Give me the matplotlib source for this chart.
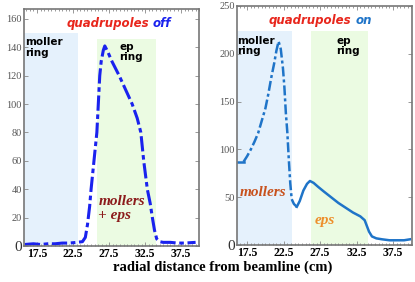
import numpy as np
import matplotlib
matplotlib.use("Agg")
import matplotlib.pyplot as plt
from matplotlib.ticker import MultipleLocator

# quadrupoles off: radial distance (cm) vs rate
off_x = [15.8, 17.0, 18.0, 19.0, 20.0, 21.0, 22.0, 23.0, 23.8, 24.2, 24.5, 24.8,
         25.0, 25.3, 25.6, 25.8, 26.0, 26.2, 26.4, 26.7, 26.9, 27.3, 27.9, 28.9,
         29.8, 30.7, 31.4, 31.9, 32.3, 32.8, 33.2, 33.5, 33.8, 34.1, 34.5, 35.0,
         36.0, 37.0, 38.0, 39.5]
off_y = [1, 1.5, 1, 1.5, 1.5, 2, 2, 2.5, 3, 6, 15, 28,
         40, 55, 70, 80, 100, 120, 130, 138, 141, 137, 130, 120,
         110, 100, 90, 80, 60, 40, 30, 20, 11, 5, 3, 2.5,
         2.5, 2, 2, 2.5]

# quadrupoles on
on_x = [16.3, 17.0, 17.5, 18.0, 18.5, 19.0, 19.5, 20.0, 20.4, 20.8, 21.2, 21.5,
        21.8, 22.1, 22.4, 22.6, 22.8, 23.0, 23.2, 23.4, 23.6, 23.9, 24.3, 24.7,
        25.2, 25.7, 26.1, 26.6, 27.2, 28.0, 29.0, 30.0, 31.0, 32.0, 33.0, 33.6,
        33.9, 34.2, 34.6, 35.2, 36.0, 37.0, 38.0, 39.0, 39.8]
on_y = [87, 87, 93, 100, 108, 117, 130, 143, 158, 175, 190, 203,
        213, 205, 185, 165, 138, 118, 90, 65, 48, 43, 40, 46,
        57, 64, 67, 65, 61, 56, 50, 44, 39, 34, 30, 26,
        20, 14, 9, 7, 6, 5, 5, 5, 6]

xticks = [17.5, 22.5, 27.5, 32.5, 37.5]
off_yticks = [0, 20, 40, 60, 80, 100, 120, 140, 160]
on_yticks = [0, 50, 100, 150, 200, 250]

serif = "Liberation Serif"
shade_blue = "#e5f1fc"
shade_green = "#ebfbe2"

fig = plt.figure(figsize=(4.15, 2.82), dpi=100)
ax1 = fig.add_axes([0.058, 0.128, 0.422, 0.840])
ax2 = fig.add_axes([0.571, 0.131, 0.422, 0.848])


def style_axes(ax, yticks):
    ax.set_xticks(xticks)
    ax.set_xticklabels([str(t) for t in xticks], fontfamily=serif,
                       fontsize=8.5, fontweight="bold")
    ax.set_yticks(yticks)
    ax.set_yticklabels([str(t) for t in yticks], fontfamily=serif,
                       fontsize=7.5, color="#555555")
    ax.get_yticklabels()[0].set_fontsize(11)
    ax.get_yticklabels()[0].set_color("#333333")
    ax.xaxis.set_minor_locator(MultipleLocator(0.5))
    ax.tick_params(which="both", direction="in", top=True, right=True,
                   color="#888888", width=0.6, pad=1.5)
    ax.tick_params(which="major", length=3)
    ax.tick_params(which="minor", length=1.5)
    for s in ax.spines.values():
        s.set_color("#777777")
        s.set_linewidth(1.2)


def title(ax, xpos, word, color):
    kw = dict(transform=ax.transAxes, fontsize=8.5, fontweight="bold",
              style="italic", va="center")
    ax.text(xpos, 0.94, "quadrupoles", color="#e8261c", ha="right", **kw)
    ax.text(xpos + 0.02, 0.94, word, color=color, ha="left", **kw)


# left panel: quadrupoles off
ax1.set_xlim(15.7, 40.0)
ax1.set_ylim(0, 167)
ax1.fill_between([15.7, 23.2], 0, 150, color=shade_blue, lw=0)
ax1.fill_between([25.8, 34.0], 0, 146, color=shade_green, lw=0)
ax1.plot(off_x, off_y, color="#1a22ee", lw=2.2, dashes=(5, 1.2, 1.5, 1.2))
style_axes(ax1, off_yticks)
ax1.text(15.8, 147, "moller\nring", fontsize=7.5, fontweight="bold",
         va="top", ha="left", linespacing=1.1)
ax1.text(28.9, 144, "ep\nring", fontsize=7.5, fontweight="bold",
         va="top", ha="left", linespacing=1.1)
ax1.text(26.0, 36, "mollers\n+ eps", fontfamily=serif, fontsize=11,
         fontweight="bold", style="italic", color="#8c1c1c",
         va="top", ha="left", linespacing=1.1)
title(ax1, 0.715, "off", "#1a22ee")

# right panel: quadrupoles on
ax2.set_xlim(16.1, 40.1)
ax2.set_ylim(0, 250)
ax2.fill_between([16.1, 23.7], 0, 224, color=shade_blue, lw=0)
ax2.fill_between([26.2, 34.1], 0, 224, color=shade_green, lw=0)
on_x = np.array(on_x)
on_y = np.array(on_y)
steep = (on_x >= 17.0) & (on_x <= 24.3)
ax2.plot(on_x[on_x <= 17.0], on_y[on_x <= 17.0], color="#1f74c8", lw=1.8)
ax2.plot(on_x[steep], on_y[steep], color="#1f74c8", lw=1.8,
         dashes=(4, 1.2, 1.2, 1.2))
ax2.plot(on_x[on_x >= 24.3], on_y[on_x >= 24.3], color="#1f74c8", lw=1.8)
style_axes(ax2, on_yticks)
ax2.text(16.15, 219, "moller\nring", fontsize=7.5, fontweight="bold",
         va="top", ha="left", linespacing=1.1)
ax2.text(29.7, 219, "ep\nring", fontsize=7.5, fontweight="bold",
         va="top", ha="left", linespacing=1.1)
ax2.text(16.5, 55, "mollers", fontfamily=serif, fontsize=11,
         fontweight="bold", style="italic", color="#c8521e",
         va="center", ha="left")
ax2.text(26.8, 26, "eps", fontfamily=serif, fontsize=11,
         fontweight="bold", style="italic", color="#ee8e2a",
         va="center", ha="left")
title(ax2, 0.655, "on", "#1f74c8")

fig.text(0.537, 0.053, "radial distance from beamline (cm)",
         fontfamily=serif, fontsize=10.5, fontweight="bold",
         ha="center", va="center")

fig.savefig("out.png", dpi=100)
